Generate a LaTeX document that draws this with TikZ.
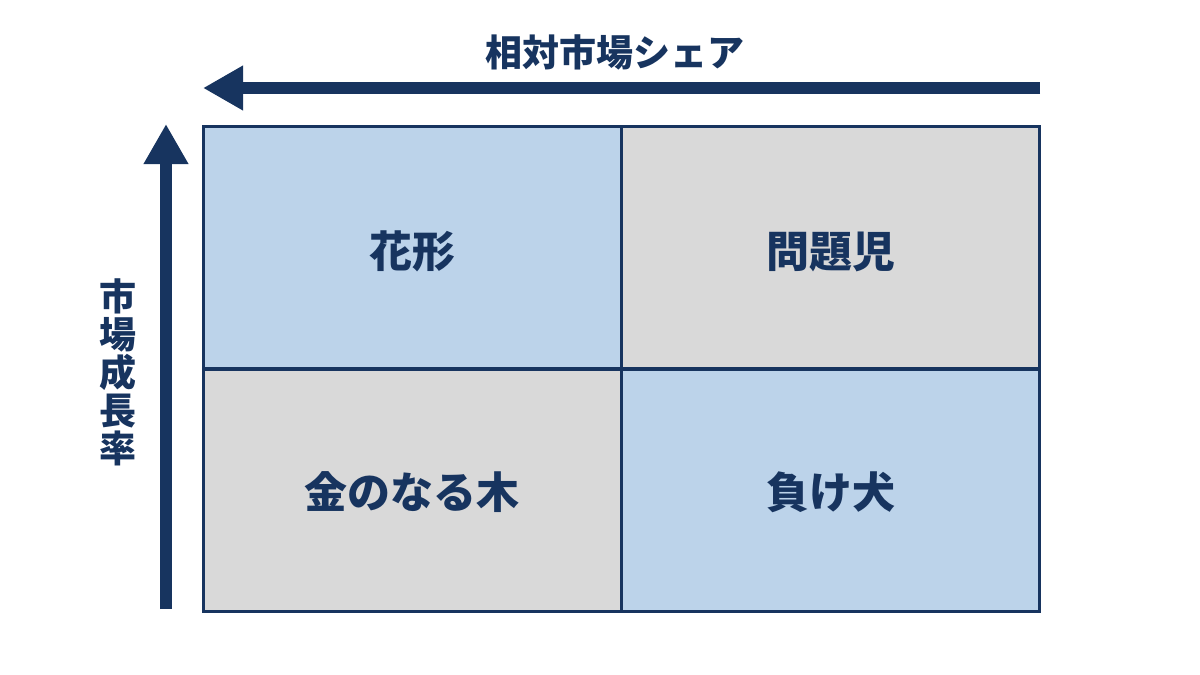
\documentclass[tikz,border=0pt]{standalone}
\usepackage{fontspec}
\setmainfont{Noto Sans CJK JP}
\usepackage{tikz}
\usetikzlibrary{arrows.meta, positioning}
\definecolor{navy}{HTML}{17345F}
\definecolor{cellblue}{HTML}{BCD3EA}
\definecolor{cellgray}{HTML}{D9D9D9}

\begin{document}
\begin{tikzpicture}[x=0.5pt, y=-0.5pt,
    cell/.style={draw=navy, line width=1.5pt, minimum width=209pt, minimum height=121pt, inner sep=0pt},
    celltext/.style={font=\fontsize{21.5}{21.5}\selectfont\bfseries, text=navy},
    axislabel/.style={font=\fontsize{18.5}{18.5}\selectfont\bfseries, text=navy, align=center},
    axis/.style={-{Triangle[length=20pt, width=21pt]}, navy, line width=6pt}
]
\useasboundingbox (0,0) rectangle (1200,675);

% Matrix cells
\node[cell, fill=cellblue] (star) at (412,247.5) {};
\node[cell, fill=cellgray] (question) at (830.5,247.5) {};
\node[cell, fill=cellgray] (cow) at (412,490) {};
\node[cell, fill=cellblue] (dog) at (830.5,490) {};

% Cell labels
\node[celltext] at ([yshift=-2pt]star.center) {花形};
\node[celltext] at ([yshift=-2pt]question.center) {問題児};
\node[celltext] at ([yshift=-1pt]cow.center) {金のなる木};
\node[celltext] at ([yshift=-1pt]dog.center) {負け犬};

% Horizontal axis
\coordinate (share_start) at (1040,88);
\coordinate (share_end) at (203,88);
\draw[axis] (share_start) -- (share_end);
\node[axislabel] (share) at (615,52) {相対市場シェア};

% Vertical axis
\coordinate (growth_start) at (166,609);
\coordinate (growth_end) at (166,124);
\draw[axis] (growth_start) -- (growth_end);
\node[axislabel, font=\fontsize{18.5}{19}\selectfont\bfseries] (growth) at (118,372) {市\\場\\成\\長\\率};

\end{tikzpicture}
\end{document}
